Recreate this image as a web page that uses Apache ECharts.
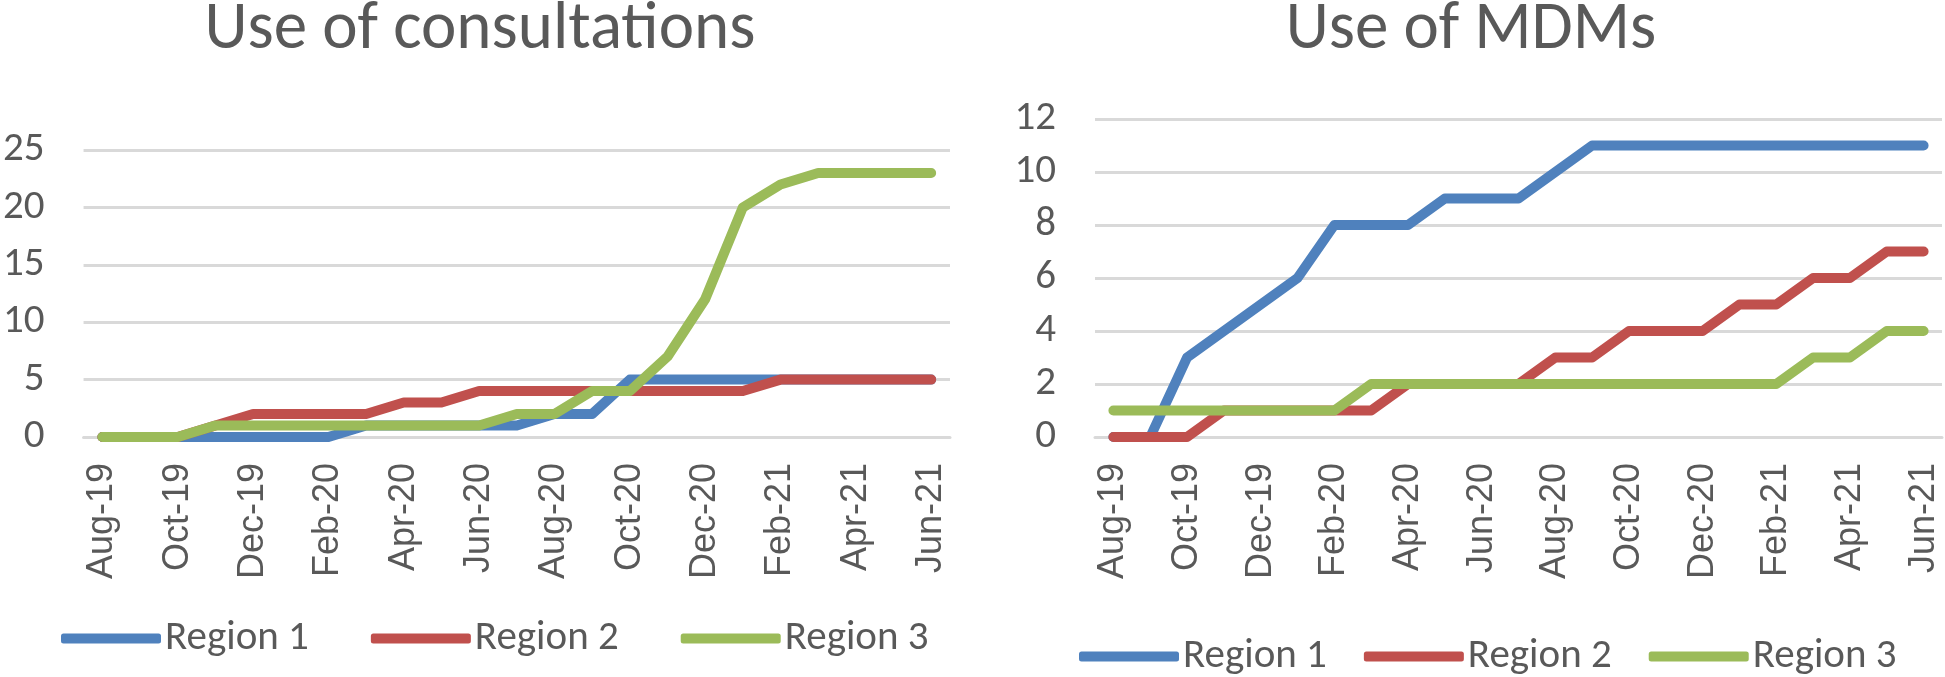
<!DOCTYPE html>
<html>
<head>
<meta charset="utf-8">
<script src="https://cdn.jsdelivr.net/npm/echarts@6/dist/echarts.min.js"></script>
<style>
  html, body { margin: 0; padding: 0; background: #fff; }
  #chart { width: 1945px; height: 677px; }
</style>
</head>
<body>
<div id="chart"></div>
<script>
// months shown on both x axes
var months = ["Aug-19", "Sep-19", "Oct-19", "Nov-19", "Dec-19", "Jan-20", "Feb-20", "Mar-20",
  "Apr-20", "May-20", "Jun-20", "Jul-20", "Aug-20", "Sep-20", "Oct-20", "Nov-20", "Dec-20",
  "Jan-21", "Feb-21", "Mar-21", "Apr-21", "May-21", "Jun-21"];

// Use of consultations
var consultRegion1 = [0, 0, 0, 0, 0, 0, 0, 1, 1, 1, 1, 1, 2, 2, 5, 5, 5, 5, 5, 5, 5, 5, 5];
var consultRegion2 = [0, 0, 0, 1, 2, 2, 2, 2, 3, 3, 4, 4, 4, 4, 4, 4, 4, 4, 5, 5, 5, 5, 5];
var consultRegion3 = [0, 0, 0, 1, 1, 1, 1, 1, 1, 1, 1, 2, 2, 4, 4, 7, 12, 20, 22, 23, 23, 23, 23];

// Use of MDMs
var mdmRegion1 = [0, 0, 3, 4, 5, 6, 8, 8, 8, 9, 9, 9, 10, 11, 11, 11, 11, 11, 11, 11, 11, 11, 11];
var mdmRegion2 = [0, 0, 0, 1, 1, 1, 1, 1, 2, 2, 2, 2, 3, 3, 4, 4, 4, 5, 5, 6, 6, 7, 7];
var mdmRegion3 = [1, 1, 1, 1, 1, 1, 1, 2, 2, 2, 2, 2, 2, 2, 2, 2, 2, 2, 2, 3, 3, 4, 4];

var regionNames = ["Region 1", "Region 2", "Region 3"];
var colors = ["#4f81bd", "#c0504d", "#9bbb59"];

var textFont = "Carlito, Lato, sans-serif";
var grey = "#595959";
var gridGrey = "#d9d9d9";

function xAxis(gridIndex) {
  return {
    type: "category",
    gridIndex: gridIndex,
    data: months,
    boundaryGap: true,
    axisLine: { lineStyle: { color: gridGrey, width: 3 } },
    axisTick: { interval: 1, length: 13, lineStyle: { color: gridGrey, width: 3 } },
    axisLabel: {
      interval: 1, rotate: 90, margin: 26,
      fontFamily: "Liberation Sans, Arial", fontSize: 36, color: grey
    }
  };
}

function yAxis(gridIndex, max, step) {
  return {
    type: "value",
    gridIndex: gridIndex,
    min: 0, max: max, interval: step,
    axisLine: { show: false },
    axisTick: { show: false },
    splitLine: { lineStyle: { color: gridGrey, width: 3 } },
    axisLabel: { margin: 39, fontFamily: textFont, fontSize: 41, color: grey }
  };
}

function line(name, data, idx, c) {
  return {
    name: name, type: "line", data: data,
    xAxisIndex: idx, yAxisIndex: idx,
    showSymbol: false, symbol: "none",
    lineStyle: { color: c, width: 10, cap: "round", join: "round" },
    itemStyle: { color: c },
    animation: false
  };
}

function legend(left, top, gap) {
  return {
    left: left, top: top, data: regionNames,
    icon: "roundRect", itemWidth: 100, itemHeight: 10, itemGap: gap,
    textStyle: { fontFamily: textFont, fontSize: 41, color: grey, padding: [0, 0, 0, -1] }
  };
}

var chart = echarts.init(document.getElementById("chart"));
chart.setOption({
  animation: false,
  color: colors,
  title: [
    { text: "Use of consultations", left: 475, top: -7, textAlign: "center",
      textStyle: { fontFamily: textFont, fontSize: 67, fontWeight: "normal", color: grey } },
    { text: "Use of MDMs", left: 1466, top: -7, textAlign: "center",
      textStyle: { fontFamily: textFont, fontSize: 67, fontWeight: "normal", color: grey } }
  ],
  legend: [legend(56, 613, 62), legend(1074, 631, 37)],
  grid: [
    { left: 79, top: 150, width: 871, height: 287 },
    { left: 1095, top: 119, width: 847, height: 318 }
  ],
  xAxis: [xAxis(0), xAxis(1)],
  yAxis: [yAxis(0, 25, 5), yAxis(1, 12, 2)],
  series: [
    line("Region 1", consultRegion1, 0, colors[0]),
    line("Region 2", consultRegion2, 0, colors[1]),
    line("Region 3", consultRegion3, 0, colors[2]),
    line("Region 1", mdmRegion1, 1, colors[0]),
    line("Region 2", mdmRegion2, 1, colors[1]),
    line("Region 3", mdmRegion3, 1, colors[2])
  ]
});
</script>
</body>
</html>
